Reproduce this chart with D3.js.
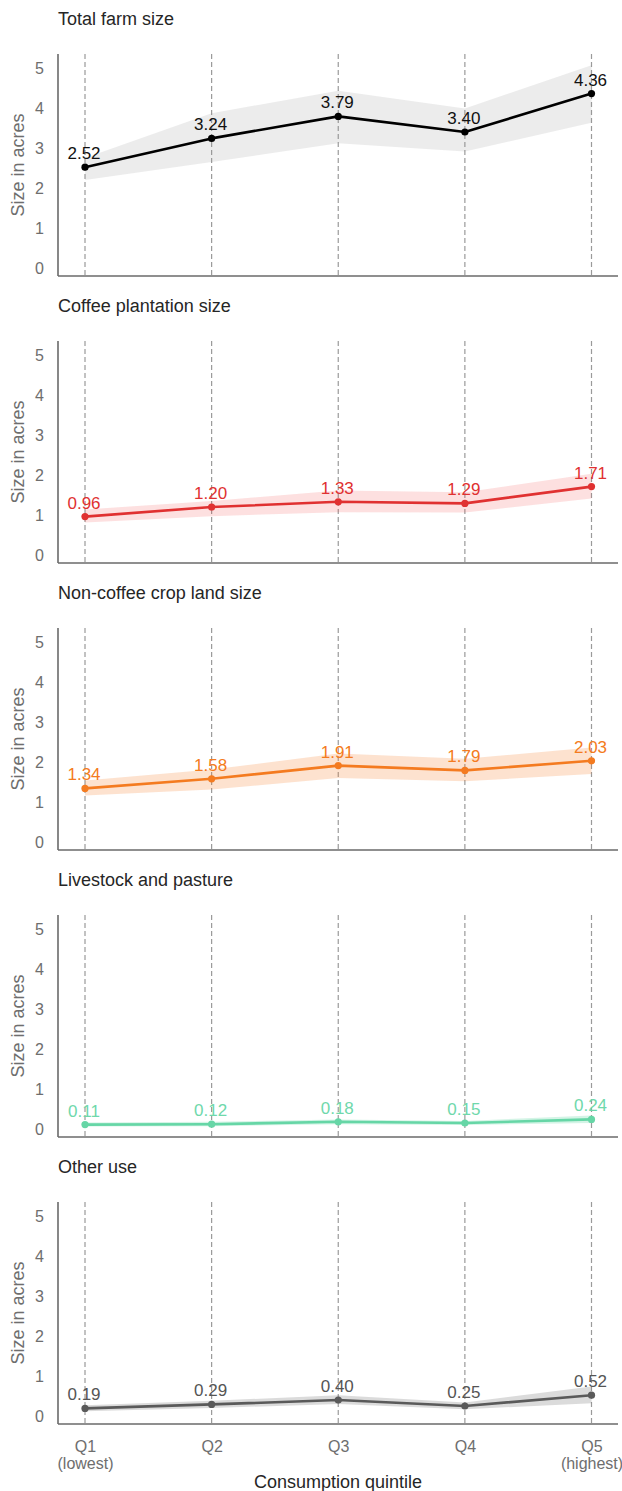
<!DOCTYPE html>
<html>
<head>
<meta charset="utf-8">
<script src="https://cdn.jsdelivr.net/npm/d3@7"></script>
<style>
  html, body { margin: 0; padding: 0; background: #fff; }
  svg { display: block; font-family: "Liberation Sans", Arial, sans-serif; }
</style>
</head>
<body>
<svg id="chart" width="622" height="1491"></svg>
<script>
// ---------- Data ----------
const quintiles = ["Q1", "Q2", "Q3", "Q4", "Q5"];
const quintileSub = ["(lowest)", "", "", "", "(highest)"];
const yTicks = [0, 1, 2, 3, 4, 5];

const panelTitles = ["Total farm size", "Coffee plantation size", "Non-coffee crop land size", "Livestock and pasture", "Other use"];

const totalFarm      = [2.52, 3.24, 3.79, 3.40, 4.36];
const totalFarmLo    = [2.20, 2.65, 3.12, 2.91, 3.63];
const totalFarmHi    = [2.75, 3.87, 4.43, 3.99, 5.07];

const coffee         = [0.96, 1.20, 1.33, 1.29, 1.71];
const coffeeLo       = [0.81, 0.97, 1.07, 1.06, 1.41];
const coffeeHi       = [1.14, 1.35, 1.61, 1.57, 2.03];

const nonCoffee      = [1.34, 1.58, 1.91, 1.79, 2.03];
const nonCoffeeLo    = [1.16, 1.31, 1.60, 1.52, 1.70];
const nonCoffeeHi    = [1.54, 1.81, 2.21, 2.08, 2.36];

const livestock      = [0.11, 0.12, 0.18, 0.15, 0.24];
const livestockLo    = [0.06, 0.07, 0.12, 0.10, 0.15];
const livestockHi    = [0.16, 0.18, 0.24, 0.20, 0.34];

const otherUse       = [0.19, 0.29, 0.40, 0.25, 0.52];
const otherUseLo     = [0.12, 0.20, 0.30, 0.17, 0.32];
const otherUseHi     = [0.27, 0.38, 0.52, 0.34, 0.74];

const seriesValues = [totalFarm, coffee, nonCoffee, livestock, otherUse];
const seriesLo = [totalFarmLo, coffeeLo, nonCoffeeLo, livestockLo, otherUseLo];
const seriesHi = [totalFarmHi, coffeeHi, nonCoffeeHi, livestockHi, otherUseHi];

// ---------- Styles ----------
const lineColors = ["#000000", "#e03131", "#f47b20", "#66d6a6", "#5a5a5a"];
const bandColors = ["rgba(150,150,150,0.18)", "rgba(240,60,60,0.16)", "rgba(245,125,35,0.22)", "rgba(102,214,166,0.28)", "rgba(90,90,90,0.22)"];
const labelColors = ["#111111", "#e03131", "#f47b20", "#6fd8ab", "#555555"];

// ---------- Layout ----------
const svg = d3.select("#chart");
const left = 58, right = 618;
const panelHeight = 222;
const firstBottom = 276;
const panelStep = 287;

const x = d3.scalePoint().domain(quintiles).range([85, 591.5]);

seriesValues.forEach((vals, p) => {
  const bottom = firstBottom + p * panelStep;
  const top = bottom - panelHeight;
  const y = d3.scaleLinear().domain([-0.2, 5.35]).range([bottom, top]);
  const g = svg.append("g");

  // title
  g.append("text")
    .attr("x", left).attr("y", bottom - 251)
    .attr("font-size", 18).attr("fill", "#262626")
    .text(panelTitles[p]);

  // y-axis label
  g.append("text")
    .attr("transform", `translate(24,${(top + bottom) / 2}) rotate(-90)`)
    .attr("text-anchor", "middle")
    .attr("font-size", 18).attr("fill", "#6e6e6e")
    .text("Size in acres");

  // y ticks (labels only)
  const yAxis = d3.axisLeft(y).tickValues(yTicks).tickSize(0).tickPadding(14).tickFormat(d3.format("d"));
  const ya = g.append("g").attr("transform", `translate(${left},0)`).call(yAxis);
  ya.select(".domain").remove();
  ya.selectAll("text").attr("font-size", 16).attr("fill", "#6e6e6e").attr("font-family", "Liberation Sans, Arial, sans-serif");

  // dashed vertical guide lines
  g.selectAll("line.vguide").data(quintiles).join("line")
    .attr("class", "vguide")
    .attr("x1", d => x(d)).attr("x2", d => x(d))
    .attr("y1", top).attr("y2", bottom)
    .attr("stroke", "#9a9a9a").attr("stroke-width", 1.2)
    .attr("stroke-dasharray", "5,3");

  // band
  const bandData = quintiles.map((q, i) => ({ q, lo: seriesLo[p][i], hi: seriesHi[p][i] }));
  g.append("path").datum(bandData)
    .attr("fill", bandColors[p])
    .attr("d", d3.area().x(d => x(d.q)).y0(d => y(d.lo)).y1(d => y(d.hi)));

  // line
  const pts = quintiles.map((q, i) => ({ q, v: vals[i] }));
  g.append("path").datum(pts)
    .attr("fill", "none").attr("stroke", lineColors[p]).attr("stroke-width", 2.6)
    .attr("stroke-linejoin", "round")
    .attr("d", d3.line().x(d => x(d.q)).y(d => y(d.v)));

  g.selectAll("circle.pt").data(pts).join("circle")
    .attr("class", "pt")
    .attr("cx", d => x(d.q)).attr("cy", d => y(d.v)).attr("r", 3.6)
    .attr("fill", lineColors[p]);

  // value labels
  g.selectAll("text.vl").data(pts).join("text")
    .attr("class", "vl")
    .attr("x", d => x(d.q) - 1).attr("y", d => y(d.v) - 8)
    .attr("text-anchor", "middle")
    .attr("font-size", 17).attr("fill", labelColors[p])
    .text(d => d.v.toFixed(2));

  // spines
  g.append("line").attr("x1", left).attr("x2", left).attr("y1", top).attr("y2", bottom)
    .attr("stroke", "#6a6a6a").attr("stroke-width", 1.6);
  g.append("line").attr("x1", left).attr("x2", right).attr("y1", bottom).attr("y2", bottom)
    .attr("stroke", "#6a6a6a").attr("stroke-width", 1.6);

  // x tick labels on last panel
  if (p === seriesValues.length - 1) {
    const xAxis = d3.axisBottom(x).tickSize(0).tickPadding(0).tickFormat(() => "");
    const xa = g.append("g").attr("transform", `translate(0,${bottom})`).call(xAxis);
    xa.select(".domain").remove();
    xa.selectAll(".tick").each(function(d, i) {
      const t = d3.select(this);
      t.append("text").attr("y", 28).attr("text-anchor", "middle")
        .attr("font-size", 16).attr("fill", "#6e6e6e").text(d);
      if (quintileSub[i]) {
        t.append("text").attr("y", 44.5).attr("text-anchor", "middle")
          .attr("font-size", 16).attr("fill", "#6e6e6e").text(quintileSub[i]);
      }
    });
    g.append("text")
      .attr("x", (left + right) / 2).attr("y", bottom + 64)
      .attr("text-anchor", "middle")
      .attr("font-size", 18).attr("fill", "#262626")
      .text("Consumption quintile");
  }
});
</script>
</body>
</html>
